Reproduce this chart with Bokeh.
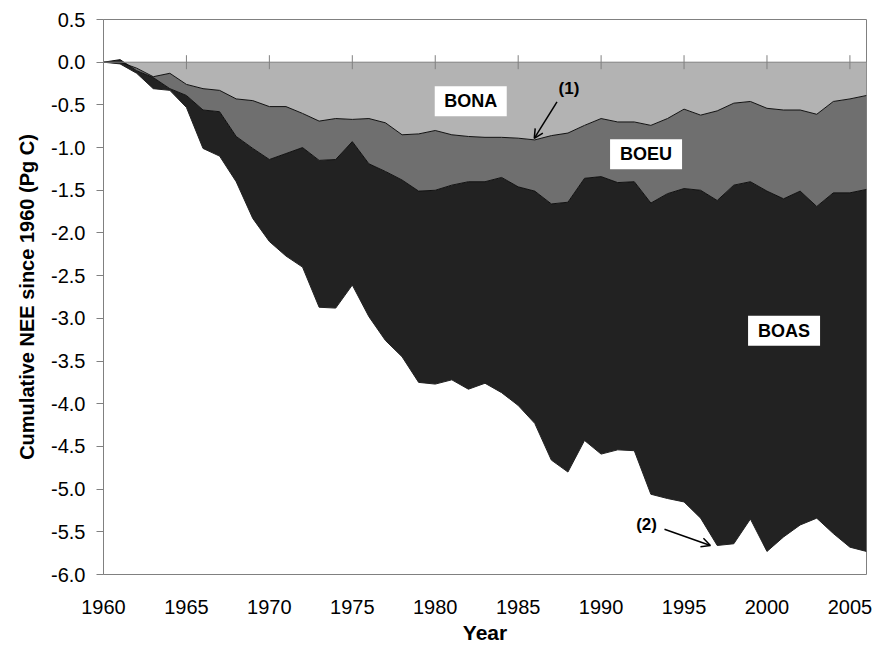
import numpy as np
from bokeh.plotting import figure
from bokeh.models import (FixedTicker, PrintfTickFormatter, Range1d, Span,
                          ColumnDataSource, Arrow, OpenHead)
from bokeh.core.properties import value
from bokeh.embed import file_html
from bokeh.resources import INLINE

FONT = "Liberation Sans"

years = list(range(1960, 2007))
# annual stacked contributions to cumulative NEE (Pg C)
bona = [0.00, 0.00, -0.07, -0.17, -0.13, -0.26, -0.31, -0.33, -0.43, -0.45,
        -0.52, -0.52, -0.60, -0.69, -0.66, -0.67, -0.66, -0.71, -0.85, -0.84,
        -0.80, -0.85, -0.87, -0.88, -0.88, -0.89, -0.91, -0.86, -0.83, -0.74,
        -0.66, -0.70, -0.70, -0.74, -0.66, -0.55, -0.62, -0.57, -0.48, -0.46,
        -0.54, -0.56, -0.56, -0.61, -0.46, -0.43, -0.39]
boeu = [0.00, 0.03, -0.03, -0.01, -0.18, -0.13, -0.25, -0.25, -0.44, -0.56,
        -0.62, -0.55, -0.40, -0.46, -0.48, -0.26, -0.53, -0.57, -0.53, -0.67,
        -0.70, -0.59, -0.53, -0.52, -0.47, -0.57, -0.60, -0.80, -0.81, -0.62,
        -0.68, -0.71, -0.70, -0.91, -0.88, -0.93, -0.88, -1.05, -0.96, -0.94,
        -0.97, -1.04, -0.95, -1.08, -1.07, -1.10, -1.10]
boas = [0.00, -0.05, -0.03, -0.13, -0.02, -0.14, -0.45, -0.52, -0.53, -0.82,
        -0.96, -1.20, -1.40, -1.72, -1.74, -1.68, -1.79, -1.98, -2.07, -2.24,
        -2.27, -2.28, -2.43, -2.36, -2.52, -2.56, -2.72, -3.00, -3.16, -3.07,
        -3.25, -3.13, -3.15, -3.41, -3.57, -3.67, -3.84, -4.04, -4.20, -3.95,
        -4.22, -3.96, -3.91, -3.65, -3.99, -4.15, -4.24]
regions = ["BONA", "BOEU", "BOAS"]
colors = ["#b3b3b3", "#6f6f6f", "#222222"]
x_ticks = [1960, 1965, 1970, 1975, 1980, 1985, 1990, 1995, 2000, 2005]
y_ticks = [0.5, 0.0, -0.5, -1.0, -1.5, -2.0, -2.5, -3.0, -3.5, -4.0, -4.5,
           -5.0, -5.5, -6.0]

# label positions (annotations)
box_x = [1982.14, 1992.71, 2001.03]
box_y = [-0.457, -1.077, -3.144]

src = ColumnDataSource(dict(year=years, BONA=bona, BOEU=boeu, BOAS=boas))

p = figure(width=876, height=654, x_range=Range1d(1960, 2006),
           y_range=Range1d(-6.0, 0.5), output_backend="svg",
           toolbar_location=None, min_border_left=103, min_border_right=10,
           min_border_top=19, min_border_bottom=80)
p.background_fill_color = "white"
p.border_fill_color = "white"
p.outline_line_color = "#808080"
p.outline_line_width = 1
p.xgrid.visible = False
p.ygrid.visible = False

p.varea_stack(stackers=regions, x="year", color=colors, source=src)
cum = np.cumsum(np.array([bona, boeu, boas]), axis=0)
for row, lc in zip(cum, ["#111111", "#111111", "#222222"]):
    p.line(years, row, line_color=lc, line_width=1)

# main x axis (labels only)
xa = p.xaxis[0]
xa.ticker = FixedTicker(ticks=x_ticks)
xa.major_tick_line_color = None
xa.minor_tick_line_color = None
xa.axis_line_color = None
xa.major_label_standoff = 19
xa.major_label_text_font = FONT
xa.major_label_text_font_size = "20px"
xa.major_label_text_color = "black"
xa.axis_label = "Year"
xa.axis_label_text_font = FONT
xa.axis_label_text_font_style = "bold"
xa.axis_label_text_font_size = "21px"
xa.axis_label_text_color = "black"
xa.axis_label_standoff = 4

ya = p.yaxis[0]
ya.ticker = FixedTicker(ticks=y_ticks)
ya.formatter = PrintfTickFormatter(format="%.1f")
ya.major_tick_in = 0
ya.major_tick_out = 7
ya.major_tick_line_color = "#808080"
ya.minor_tick_line_color = None
ya.axis_line_color = "#808080"
ya.major_label_standoff = 11
ya.major_label_text_font = FONT
ya.major_label_text_font_size = "20px"
ya.major_label_text_color = "black"
ya.axis_label = "Cumulative NEE since 1960 (Pg C)"
ya.axis_label_text_font = FONT
ya.axis_label_text_font_style = "bold"
ya.axis_label_text_font_size = "20px"
ya.axis_label_text_color = "black"
ya.axis_label_standoff = 10

# zero line with crossing tick marks
p.add_layout(Span(location=0, dimension="width", line_color="#808080",
                  line_width=1))
p.scatter(x=x_ticks, y=[0] * len(x_ticks), marker="dash", size=14,
          angle=np.pi / 2, line_color="#808080", line_width=1)

# region labels
p.rect(x=box_x, y=box_y, width=72, height=30, width_units="screen",
       height_units="screen", fill_color="white", line_color=None)
p.text(x=box_x, y=box_y, text=regions, text_align="center",
       text_baseline="middle", text_font=value(FONT), text_font_style="bold",
       text_font_size="18px", text_color="black")

# numbered annotations
p.text(x=[1988.06, 1992.74], y=[-0.304, -5.41], text=["(1)", "(2)"],
       text_align="center", text_baseline="middle", text_font=value(FONT),
       text_font_style="bold", text_font_size="17px", text_color="black")
p.add_layout(Arrow(end=OpenHead(size=9, line_width=1.5, line_color="black"),
                   x_start=1987.34, y_start=-0.465, x_end=1985.97, y_end=-0.893,
                   line_width=1.5, line_color="black"))
p.add_layout(Arrow(end=OpenHead(size=9, line_width=1.5, line_color="black"),
                   x_start=1993.82, y_start=-5.47, x_end=1996.59, y_end=-5.66,
                   line_width=1.5, line_color="black"))

open("out.html", "w").write(file_html(p, INLINE))
